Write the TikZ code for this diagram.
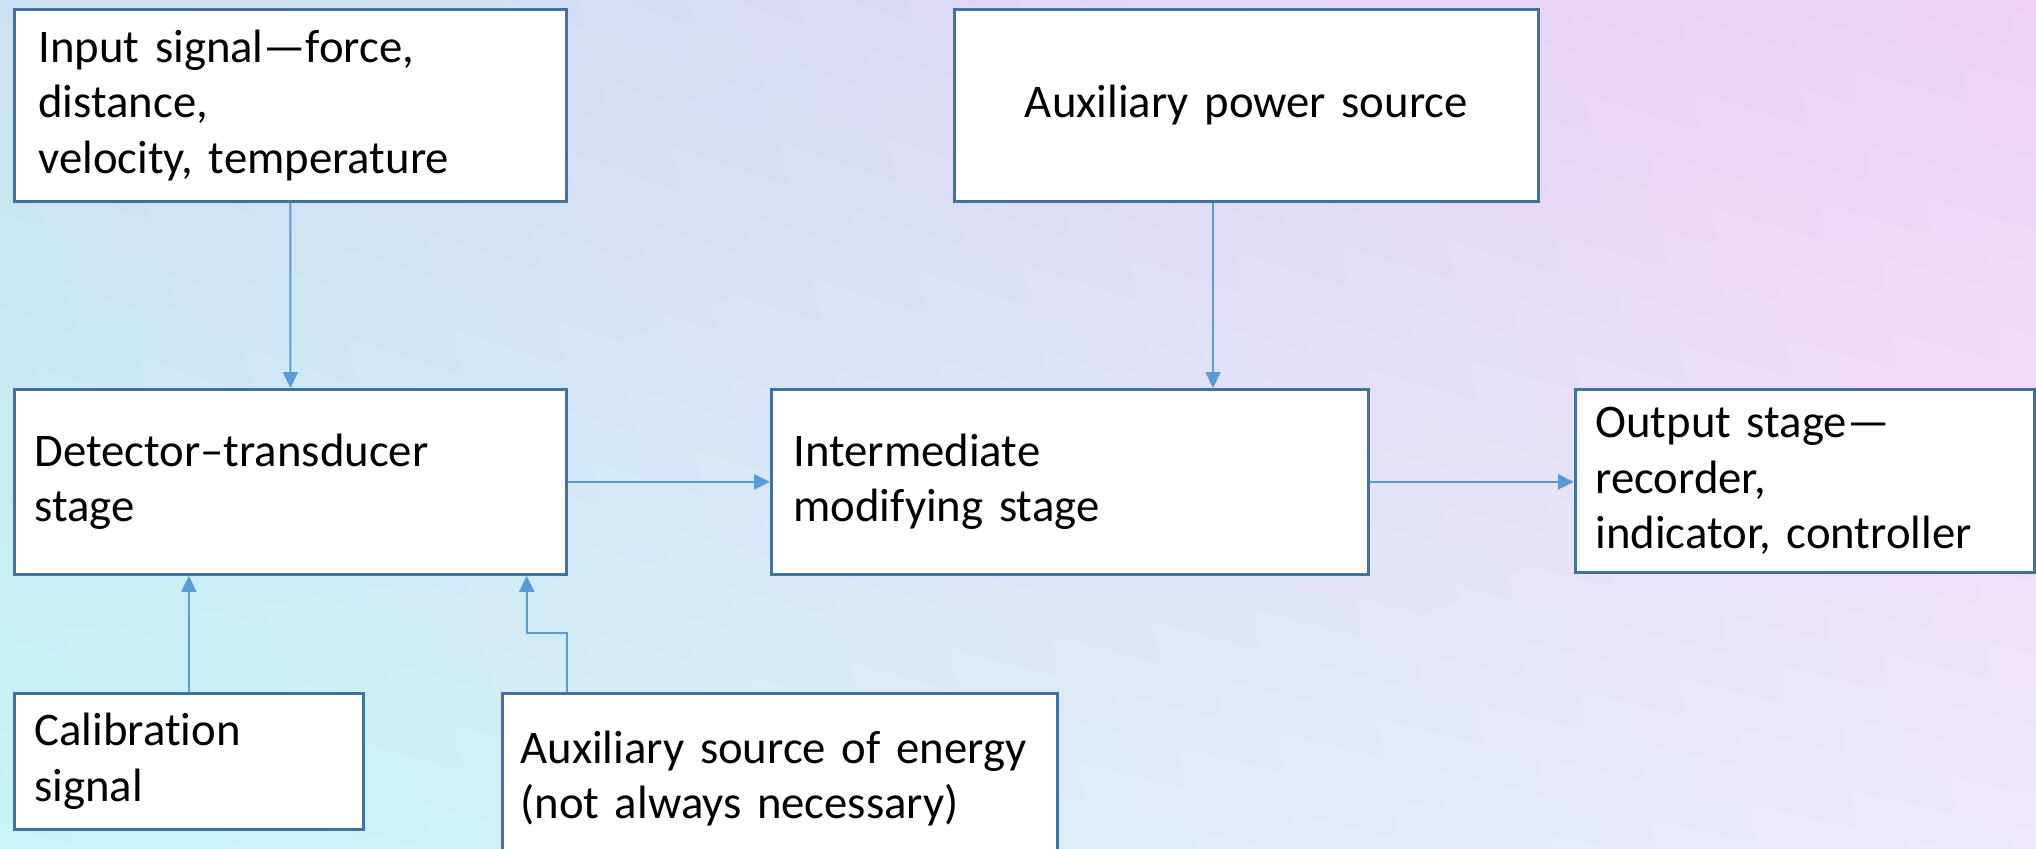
\documentclass[tikz,border=0pt]{standalone}
\usepackage{fontspec}
\setmainfont{Carlito}[Ligatures={TeX,NoCommon}]
\usetikzlibrary{arrows.meta,shadings}
\definecolor{boxline}{HTML}{41719C}
\definecolor{arrline}{HTML}{5B9BD5}
\definecolor{bgul}{HTML}{CBE2F2}
\definecolor{bgur}{HTML}{F0D0F8}
\definecolor{bgll}{HTML}{C6F4F8}
\definecolor{bglr}{HTML}{EEE8F8}
\begin{document}
\begin{tikzpicture}[
  stage/.style={draw=boxline,fill=white,line width=0.8pt,anchor=north west,align=left,
    inner ysep=0pt,font=\fontsize{13.3}{15.8}\selectfont},
  arr/.style={draw=arrline,line width=0.6pt,-{Triangle[length=0.16cm,width=0.15cm]}}]
\useasboundingbox (0,0) rectangle (20.36,8.48);
\clip (0,0) rectangle (20.36,8.48);
\shade[upper left=bgul,upper right=bgur,lower left=bgll,lower right=bglr] (0,0) rectangle (20.36,8.48);
% top row
\node[stage,inner xsep=0.24cm,text width=5.04cm,minimum height=1.92cm] (inp) at (0.13,8.40)
  {Input signal---force,\\distance,\\velocity, temperature};
\node[stage,align=center,inner xsep=0pt,text width=5.84cm,minimum height=1.92cm] (pow) at (9.53,8.40)
  {Auxiliary power source};
% middle row
\node[stage,inner xsep=0.2cm,text width=5.12cm,minimum height=1.85cm] (det) at (0.13,4.60)
  {Detector--transducer\\stage};
\node[stage,inner xsep=0.22cm,text width=5.53cm,minimum height=1.85cm] (mid) at (7.70,4.60)
  {Intermediate\\modifying stage};
\node[stage,inner xsep=0.2cm,text width=4.19cm,minimum height=1.83cm] (out) at (15.74,4.60)
  {Output stage---\\recorder,\\indicator, controller};
% bottom row
\node[stage,inner xsep=0.2cm,text width=3.09cm,minimum height=1.36cm] (cal) at (0.13,1.56)
  {Calibration\\signal};
\node[stage,inner xsep=0.18cm,text width=5.19cm,minimum height=1.70cm] (aux) at (5.01,1.56)
  {Auxiliary source of energy\\(not always necessary)};
% connectors
\coordinate (pm) at (12.13,0);
\coordinate (ka) at (5.667,2.15);
\coordinate (kb) at (5.267,2.15);
\draw[arr] (inp.south) -- (det.north);
\draw[arr] (pow.south -| pm) -- (mid.north -| pm);
\draw[arr] (det.east) -- (mid.west);
\draw[arr] (mid.east) -- (mid.east -| out.west);
\draw[arr] (cal.north) -- (cal.north |- det.south);
\draw[arr] (aux.north -| ka) -- (ka) -- (kb) -- (det.south -| kb);
\end{tikzpicture}
\end{document}
